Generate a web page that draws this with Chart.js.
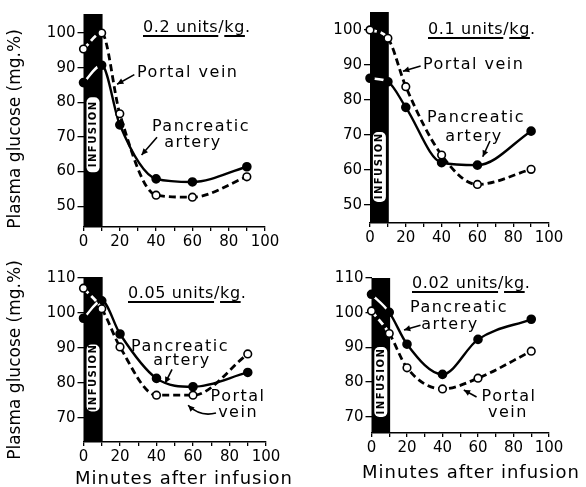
<!DOCTYPE html>
<html>
<head>
<meta charset="utf-8">
<script src="https://cdn.jsdelivr.net/npm/chart.js@4.4.0/dist/chart.umd.min.js"></script>
<style>
body{margin:0;background:#fff;}
#wrap{position:relative;width:586px;height:487px;overflow:hidden;font-family:"DejaVu Sans",sans-serif;color:#000;background:#fff;}
canvas{position:absolute;left:0;top:0;}
.t{position:absolute;white-space:nowrap;font-size:16px;letter-spacing:0.6px;line-height:18px;}
.t u{text-decoration:underline;text-decoration-thickness:2px;text-underline-offset:3px;}
.ytitle{position:absolute;font-size:17px;white-space:nowrap;transform:translate(-50%,-50%) rotate(-90deg);}
.xtitle{position:absolute;font-size:18px;letter-spacing:1px;white-space:nowrap;transform:translateX(-50%);}
</style>
</head>
<body>
<div id="wrap">
  <canvas id="c1" width="586" height="487"></canvas>
  <canvas id="c2" width="586" height="487"></canvas>
  <canvas id="c3" width="586" height="487"></canvas>
  <canvas id="c4" width="586" height="487"></canvas>
  <div class="t" style="left:143px;top:18px"><u>0.2 units</u>/<u>kg</u>.</div>
  <div class="t" style="left:428px;top:20px"><u>0.1 units</u>/<u>kg</u>.</div>
  <div class="t" style="left:128px;top:284px"><u>0.05 units</u>/<u>kg</u>.</div>
  <div class="t" style="left:412px;top:274px"><u>0.02 units</u>/<u>kg</u>.</div>
  <div class="ytitle" style="left:14px;top:129px">Plasma glucose (mg.%)</div>
  <div class="ytitle" style="left:14px;top:360px">Plasma glucose (mg.%)</div>
  <div class="xtitle" style="left:184px;top:467px">Minutes after infusion</div>
  <div class="xtitle" style="left:471px;top:461px">Minutes after infusion</div>
</div>
<script>
// values
const minutes = [0, 10, 20, 40, 60, 90];

const portal02 = [95.4, 100, 76.7, 53.2, 52.6, 58.5];
const pancreatic02 = [85.7, 90.7, 73.5, 57.9, 57, 61.4];

const portal01 = [100, 97.6, 83.8, 64.3, 55.9, 60.2];
const pancreatic01 = [86.2, 85.2, 77.9, 62.1, 61.4, 71.1];

const portal005 = [107.1, 101.2, 90.3, 76.5, 76.5, 88.3];
const pancreatic005 = [98.5, 103.5, 94, 81.3, 78.9, 83];

const portal002 = [100.5, 94, 84.1, 78, 81.1, 88.9];
const pancreatic002 = [105.3, 100.1, 90.9, 82.2, 92.3, 98.1];

const xTickValues = [0, 10, 20, 30, 40, 50, 60, 70, 80, 90, 100];
const yTicksUpper = [50, 60, 70, 80, 90, 100];
const yTicksLower = [70, 80, 90, 100, 110];
const infusionMinutes = [0, 10.5];

Chart.defaults.font.family = '"DejaVu Sans", sans-serif';
Chart.defaults.color = '#000';

// black infusion bar with the white "INFUSION" tag
const infusion = {
  id: 'infusion',
  beforeDatasetsDraw(chart, args, opts) {
    const {ctx, chartArea: a, scales: {x, y}} = chart;
    const x0 = x.getPixelForValue(infusionMinutes[0]);
    const x1 = x.getPixelForValue(infusionMinutes[1]);
    ctx.save();
    ctx.fillStyle = '#000';
    ctx.fillRect(x0, a.top, x1 - x0, a.bottom - a.top);
    ctx.translate((x0 + x1) / 2, y.getPixelForValue(opts.pillY));
    ctx.rotate(-Math.PI / 2);
    ctx.fillStyle = '#fff';
    ctx.beginPath();
    ctx.roundRect(-opts.pillLen / 2, -6.5, opts.pillLen, 13, 5);
    ctx.fill();
    ctx.fillStyle = '#000';
    ctx.font = 'bold 10px "DejaVu Sans"';
    ctx.letterSpacing = '1.5px';
    ctx.textAlign = 'center';
    ctx.textBaseline = 'middle';
    ctx.fillText('INFUSION', 1, 0.5);
    ctx.restore();
  }
};

// curve labels and their arrows
const notes = {
  id: 'notes',
  afterDatasetsDraw(chart, args, opts) {
    const {ctx, scales: {x, y}} = chart;
    const px = p => [x.getPixelForValue(p[0]), y.getPixelForValue(p[1])];
    ctx.save();
    ctx.fillStyle = '#000';
    ctx.strokeStyle = '#000';
    ctx.font = '16px "DejaVu Sans"';
    ctx.letterSpacing = '1.5px';
    ctx.textBaseline = 'middle';
    (opts.texts || []).forEach(t => {
      const [tx, ty] = px([t.x, t.y]);
      ctx.textAlign = t.align || 'center';
      ctx.fillText(t.text, tx, ty);
    });
    (opts.arrows || []).forEach(ar => {
      const [fx, fy] = px(ar.from), [ex, ey] = px(ar.to);
      let cx = (fx + ex) / 2, cy = (fy + ey) / 2;
      if (ar.ctrl) [cx, cy] = px(ar.ctrl);
      ctx.lineWidth = 1.6;
      ctx.beginPath();
      ctx.moveTo(fx, fy);
      ctx.quadraticCurveTo(cx, cy, ex, ey);
      ctx.stroke();
      const ang = Math.atan2(ey - cy, ex - cx);
      ctx.beginPath();
      ctx.moveTo(ex, ey);
      ctx.lineTo(ex - 7 * Math.cos(ang - 0.45), ey - 7 * Math.sin(ang - 0.45));
      ctx.lineTo(ex - 7 * Math.cos(ang + 0.45), ey - 7 * Math.sin(ang + 0.45));
      ctx.closePath();
      ctx.fill();
    });
    ctx.restore();
  }
};

function inBar(c) {
  return c.p1.parsed.x <= infusionMinutes[1] ? '#fff' : '#000';
}

function makePanel(id, p) {
  const YW = 45, XH = 26;
  new Chart(document.getElementById(id), {
    type: 'line',
    data: {
      datasets: [
        {
          label: 'Portal vein',
          data: minutes.map((m, i) => ({x: m, y: p.portal[i]})),
          borderColor: '#000',
          borderWidth: 2.8,
          borderDash: [7, 4],
          pointRadius: 3.8,
          pointBorderWidth: 1.6,
          pointBackgroundColor: '#fff',
          pointBorderColor: '#000',
          cubicInterpolationMode: 'monotone',
          clip: false,
          segment: {borderColor: inBar}
        },
        {
          label: 'Pancreatic artery',
          data: minutes.map((m, i) => ({x: m, y: p.pancreatic[i]})),
          borderColor: '#000',
          borderWidth: 2.4,
          pointRadius: 3.6,
          pointBackgroundColor: '#000',
          pointBorderColor: '#000',
          cubicInterpolationMode: 'monotone',
          clip: false,
          segment: {borderColor: inBar}
        }
      ]
    },
    options: {
      responsive: false,
      animation: false,
      events: [],
      layout: {padding: {left: p.area.l - YW, right: 586 - p.area.r, top: p.area.t, bottom: 487 - p.area.b - XH}},
      plugins: {
        legend: {display: false},
        tooltip: {enabled: false},
        infusion: {pillY: p.pillY, pillLen: p.pillLen},
        notes: {texts: p.texts, arrows: p.arrows}
      },
      scales: {
        x: {
          type: 'linear', min: 0, max: 100,
          afterFit(s) { s.height = XH; },
          afterBuildTicks(s) { s.ticks = xTickValues.map(v => ({value: v})); },
          ticks: {autoSkip: false, maxRotation: 0, color: '#000', font: {size: 15}, padding: 2,
                  callback: v => v % 20 === 0 ? v : ''},
          grid: {drawOnChartArea: false, color: '#000', tickLength: 4, lineWidth: 1.3},
          border: {color: '#000', width: 1.5}
        },
        y: {
          min: p.yMin, max: p.yMax,
          afterFit(s) { s.width = YW; },
          afterBuildTicks(s) { s.ticks = p.yTicks.map(v => ({value: v})); },
          ticks: {color: '#000', font: {size: 15}, padding: 2},
          grid: {drawOnChartArea: false, color: '#000', tickLength: 6, lineWidth: 1.3},
          border: {display: false}
        }
      }
    },
    plugins: [infusion, notes]
  });
}

makePanel('c1', {
  portal: portal02, pancreatic: pancreatic02, yTicks: yTicksUpper,
  yMin: 44, yMax: 105.5, area: {l: 83.5, r: 265, t: 14, b: 227},
  pillY: 70.6, pillLen: 75,
  texts: [
    {text: 'Portal vein', x: 29.5, y: 88.6, align: 'left'},
    {text: 'Pancreatic', x: 64.7, y: 72.9},
    {text: 'artery', x: 60.3, y: 68.2}
  ],
  arrows: [
    {from: [28, 88], to: [18.5, 85.2]},
    {from: [40.5, 69.9], to: [32, 64.8]}
  ]
});

makePanel('c2', {
  portal: portal01, pancreatic: pancreatic01, yTicks: yTicksUpper,
  yMin: 44.9, yMax: 105.1, area: {l: 370, r: 549, t: 12, b: 223},
  pillY: 60.9, pillLen: 70,
  texts: [
    {text: 'Portal vein', x: 29.6, y: 90, align: 'left'},
    {text: 'Pancreatic', x: 59.2, y: 74.9},
    {text: 'artery', x: 58.1, y: 69.5}
  ],
  arrows: [
    {from: [28.3, 89.7], to: [18.4, 88.2]},
    {from: [67, 68.3], to: [63, 63.8]}
  ]
});

makePanel('c3', {
  portal: portal005, pancreatic: pancreatic005, yTicks: yTicksLower,
  yMin: 63.1, yMax: 110.3, area: {l: 83.5, r: 266, t: 277, b: 442},
  pillY: 81.4, pillLen: 67,
  texts: [
    {text: 'Pancreatic', x: 52.9, y: 90.2},
    {text: 'artery', x: 54, y: 86.2},
    {text: 'Portal', x: 84.7, y: 76},
    {text: 'vein', x: 84.7, y: 71.4}
  ],
  arrows: [
    {from: [48.5, 83.9], to: [44.7, 79.9]},
    {from: [72.6, 71.4], to: [57.3, 73.6], ctrl: [64, 70.2]}
  ]
});

makePanel('c4', {
  portal: portal002, pancreatic: pancreatic002, yTicks: yTicksLower,
  yMin: 65.3, yMax: 110, area: {l: 371.5, r: 549, t: 278, b: 433},
  pillY: 80, pillLen: 70,
  texts: [
    {text: 'Pancreatic', x: 49.3, y: 101.3},
    {text: 'artery', x: 44.2, y: 96.4},
    {text: 'Portal', x: 77.5, y: 75.7},
    {text: 'vein', x: 76.9, y: 71}
  ],
  arrows: [
    {from: [27.6, 96.4], to: [18.3, 95]},
    {from: [59.2, 75.7], to: [52, 77.7]}
  ]
});
</script>
</body>
</html>
